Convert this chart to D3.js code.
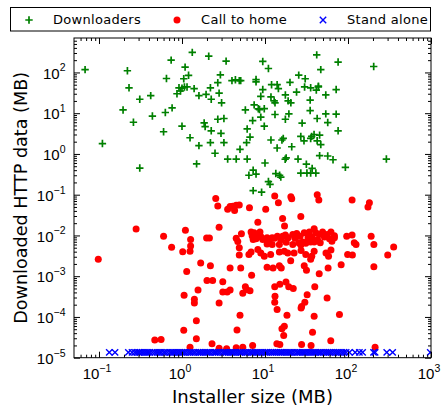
<!DOCTYPE html>
<html>
<head>
<meta charset="utf-8">
<script src="https://cdn.jsdelivr.net/npm/d3@7"></script>
<style>
  body { margin: 0; background: #fff; }
  svg { display: block; font-family: "DejaVu Sans", sans-serif; }
</style>
</head>
<body>
<div id="chart"></div>
<script>
// installer size (MB) / downloaded HTTP data (MB)
const dlSize = [0.068,0.11,0.195,0.22,0.23,0.26,0.31,0.31,0.42,0.44,0.6,0.63,0.65,0.74,0.76,0.87,0.92,0.96,1.0,1.07,
  1.15,1.05,1.09,1.2,1.0,1.33,1.4,1.25,1.6,1.6,1.5,1.85,1.9,1.95,2.2,2.1,2.25,2.25,2.2,2.5,
  2.7,3.2,2.8,2.7,2.9,3.0,3.4,2.95,3.2,3.55,4.5,5,5.8,6.1,6.0,6.1,6.4,6.6,4.0,4.4,
  4.9,5.1,7.2,7.1,9.4,11,7.8,7.8,9.4,8.9,7.4,8.3,8.6,9.8,8.9,9.8,7.2,7.8,9.1,10,
  11,11.5,12,14,14.5,11.8,12.9,13.2,13.2,11.8,14,13.5,15,15.5,16,16.6,17.6,17.6,19,20.5,
  19.4,20,21,17.5,18,25,24,25.5,30.5,30,35.5,41.5,44,44,35,35,28,42.5,27,29.5,
  36.5,39,35.5,45.5,42.5,47,45.5,57,66,31.5,37,27,32,35.5,41,54,54,57,72,72,
  76,76,47,42,93,204,290];
const dlData = [117,1.8,12,110,42,6,0.45,22,27,8.5,3.5,10.4,71,200,13.5,30,42,35,41,44,
  44,70,135,85,4.8,310,40,2.5,27,1.6,0.57,5.8,4.7,29,42,250,22,3.7,1.9,1.04,
  7.1,7.4,31,56,87,18,190,3.2,1.9,0.75,0.75,1.3,12,4.1,1.9,0.75,0.3,2.6,63,66,
  63,63,0.126,6.6,186,125,67,59,38,26,16,12.8,12.3,12.9,8,4.8,0.4,0.32,0.115,0.6,
  0.21,0.18,50,50,40,25,20,18,9.3,2.2,1.4,0.33,0.3,0.27,2.2,2.4,7.1,28,20,18,
  9.6,57,1.5,0.74,0.8,0.75,33,86,70,44,42,37,44,46,21,11.6,5.7,7.4,2.7,2.1,
  2.7,3.0,2.4,2.9,2.1,1.7,0.91,0.89,0.72,0.56,0.44,0.34,0.34,0.34,0.34,28,9.6,5.9,38,9.5,
  3.7,180,117,270,0.47,140,0.75];

const chSize = [0.098,0.28,0.6,0.75,1.02,1.1,1.27,1.27,1.25,1.14,1.06,1.41,1.41,1.56,1.68,1.98,2.14,2.0,2.34,2.2,
  1.49,1.05,1.49,0.47,0.56,1.25,2.3,2.55,2.7,2.8,3.55,3.8,4.1,4.5,4.3,4.9,6.5,3.8,3.1,3.1,
  3.5,3.8,2.8,4.5,4.7,5.2,4.9,4.9,5.1,5.8,5.4,6.0,5.0,4.6,2.8,3.45,4.5,5.4,6.4,
  13.1,14.5,20.5,21,42.6,44.5,112,181,174,10.2,16.3,27,8.2,17.2,
  6.8,7.4,8.7,7.2,7.8,9.4,10.6,12.2,14.1,16.3,17.6,21.6,24.1,29.7,34.2,39.1,41,45,49.4,62.3,
  68.6,59.8,68.6,96.5,112,119,125,190,205,10.6,12.2,14.9,21.6,25.5,28.5,31,35.5,39.1,46.3,
  7.0,8.0,9.0,11.2,13.0,15.5,19.0,23,26.5,33,37,43,52,56,64,18,27,
  6.8,8.2,8.9,9.8,11.7,14.9,17.1,18.8,22.4,27.2,31,35.5,36.6,39.1,54.3,58.3,62.3,99,113,301,355,20.4,
  10.6,12.5,14.9,15.7,29.7,31.6,57.6,82.7,205,45,6.9,
  17.9,15.1,13.1,19.3,21.9,39.8,6.6,13.2,13.1,32.2,30.2,27.6,27.2,56,14,18.4,39.1,78.9,
  17.1,16,16.8,37.4,62,13.9,15.1,27.6,35.9,7.1,212];
const chData = [0.0026,0.0144,0.0096,0.0051,0.004,0.0135,0.0079,0.0055,0.0041,0.00131,0.00034,0.00027,0.00022,0.00046,0.0021,0.0087,0.0087,0.00078,0.00078,0.0018,
  8.1e-5,4.7e-5,2.9e-5,2.7e-5,2.8e-5,1.8e-5,2.2e-5,0.081,0.053,0.016,0.044,0.051,0.052,0.055,0.041,0.056,0.048,0.0016,0.00073,0.00041,
  0.00041,0.00046,0.00022,0.0085,0.0071,0.011,0.005,0.0033,0.0016,0.00055,0.00038,0.00047,0.00011,4.8e-5,1.7e-5,1.65e-5,1.75e-5,1.8e-5,0.0034,
  0.093,0.063,0.089,0.08,0.1,0.074,0.074,0.063,0.05,0.044,0.026,0.029,0.021,0.017,
  0.0121,0.0116,0.0121,0.008,0.0083,0.008,0.0088,0.0088,0.0096,0.0096,0.0102,0.0106,0.0112,0.0116,0.0121,0.0146,0.0116,0.0106,0.0121,0.0121,
  0.0098,0.0083,0.0088,0.0096,0.0102,0.0066,0.006,0.0096,0.006,0.0062,0.006,0.006,0.006,0.0066,0.0069,0.0064,0.0069,0.0069,0.0066,
  0.0098,0.0105,0.0092,0.0078,0.0085,0.0078,0.0088,0.0085,0.0095,0.0088,0.0092,0.0078,0.0092,0.0105,0.0072,0.0068,0.0058,
  0.0039,0.0045,0.0037,0.0031,0.0034,0.0039,0.0041,0.0037,0.0037,0.0043,0.0034,0.0026,0.0031,0.0041,0.0037,0.0031,0.0044,0.0034,0.0033,0.0033,0.0052,0.0024,
  0.00166,0.0016,0.0018,0.0016,0.0018,0.0014,0.0016,0.0019,0.0017,0.00115,0.00105,
  0.00072,0.00063,0.00055,0.00055,0.0005,0.00055,0.00044,0.00032,0.00023,0.00035,0.00023,0.00018,0.000166,0.00029,0.000152,0.00011,0.000104,0.000115,
  5.9e-5,5.1e-5,3.5e-5,4.2e-5,2.6e-5,2.2e-5,2.1e-5,2.1e-5,2e-5,2e-5,1.8e-5];

// stand alone installers: no HTTP data, all sit on the floor value
const saSize = [0.133,0.156,0.226,0.25,0.27,0.285,0.30,0.31,0.33,0.35,0.37,0.39,0.41,0.44,0.47,0.5,0.53,0.56,0.6,0.63,
  0.67,0.72,0.76,0.8,0.85,0.9,0.95,1.0,1.05,1.1,1.17,1.24,1.3,1.38,1.45,1.55,1.62,1.7,1.8,1.9,
  2.0,2.1,2.2,2.35,2.5,2.6,2.75,2.9,3.1,3.25,3.4,3.6,3.8,4.0,4.2,4.45,4.7,5.0,5.2,5.5,
  5.8,6.1,6.5,6.8,7.2,7.6,8.0,8.4,8.9,9.4,10,10.5,11,11.7,12.3,13,13.7,14.5,15.3,16,
  17,18,19,20,21,22.5,24,25,26.5,28,29.5,31,33,35,37,39,41,43.5,46,48,
  51,54,57,60,63,67,71,75,79,84,89,95,104,122,137,150,203,212,293,345,980];
const saLevel = 1.35e-5;

const xMajor = [0.1, 1, 10, 100, 1000];
const yMajor = [1e-5, 1e-4, 1e-3, 1e-2, 1e-1, 1, 10, 100];
const legendNames = ["Downloaders", "Call to home", "Stand alone"];

const width = 441, height = 407;
const plotLeft = 74, plotRight = 431, plotTop = 38, plotBottom = 357.7;

const svg = d3.select("#chart").append("svg")
  .attr("width", width).attr("height", height);

const x = d3.scaleLog().domain([0.05, 1000]).range([plotLeft, plotRight]);
const y = d3.scaleLog().domain([1e-5, 700]).range([plotBottom, plotTop]);

function minorTicks(domain) {
  let out = [];
  for (let e = -6; e <= 3; e++) {
    for (let m = 2; m <= 9; m++) {
      let v = m * Math.pow(10, e);
      if (v > domain[0] * 1.001 && v < domain[1]) out.push(v);
    }
  }
  return out;
}

const plusPath = "M-3.7,0H3.7M0,-3.7V3.7";
const crossPath = "M-3.2,-3.2L3.2,3.2M-3.2,3.2L3.2,-3.2";

// markers, clipped to the axes box like matplotlib does
svg.append("clipPath").attr("id", "clip")
  .append("rect").attr("x", plotLeft).attr("y", plotTop)
  .attr("width", plotRight - plotLeft).attr("height", plotBottom - plotTop);

const plot = svg.append("g").attr("clip-path", "url(#clip)");

plot.selectAll("path.dl").data(dlSize).enter().append("path")
  .attr("class", "dl")
  .attr("d", plusPath)
  .attr("transform", (d, i) => `translate(${x(d)},${y(dlData[i])})`)
  .attr("stroke", "#008000").attr("stroke-width", 1.7).attr("fill", "none");

plot.selectAll("circle.ch").data(chSize).enter().append("circle")
  .attr("class", "ch")
  .attr("cx", d => x(d))
  .attr("cy", (d, i) => y(chData[i]))
  .attr("r", 3.5)
  .attr("fill", "#ff0000");

plot.selectAll("path.sa").data(saSize).enter().append("path")
  .attr("class", "sa")
  .attr("d", crossPath)
  .attr("transform", d => `translate(${x(d)},${y(saLevel)})`)
  .attr("stroke", "#0000ff").attr("stroke-width", 1.4).attr("fill", "none");

// ticks point inwards on all four sides
function drawAxis(axis, tx, ty) {
  let g = svg.append("g").attr("transform", `translate(${tx},${ty})`).call(axis);
  g.select(".domain").remove();
  g.selectAll(".tick line").attr("stroke", "#000").attr("stroke-width", 1);
  return g;
}

const xMinor = minorTicks(x.domain());
const yMinor = minorTicks(y.domain());

let xAxisG = drawAxis(d3.axisBottom(x).tickValues(xMajor).tickSize(-6).tickPadding(0), 0, plotBottom);
drawAxis(d3.axisBottom(x).tickValues(xMinor).tickSize(-3).tickFormat(""), 0, plotBottom);
drawAxis(d3.axisTop(x).tickValues(xMajor).tickSize(-6).tickFormat(""), 0, plotTop);
drawAxis(d3.axisTop(x).tickValues(xMinor).tickSize(-3).tickFormat(""), 0, plotTop);
let yAxisG = drawAxis(d3.axisLeft(y).tickValues(yMajor).tickSize(-6).tickPadding(0), plotLeft, 0);
drawAxis(d3.axisLeft(y).tickValues(yMinor).tickSize(-3).tickFormat(""), plotLeft, 0);
drawAxis(d3.axisRight(y).tickValues(yMajor).tickSize(-6).tickFormat(""), plotRight, 0);
drawAxis(d3.axisRight(y).tickValues(yMinor).tickSize(-3).tickFormat(""), plotRight, 0);

function powerLabel(sel) {
  sel.each(function (d) {
    let t = d3.select(this).text(null)
      .attr("font-size", 15).attr("fill", "#000").attr("dy", null);
    let e = Math.round(Math.log10(d));
    t.append("tspan").text("10");
    t.append("tspan").attr("font-size", 10.5).attr("dy", -7.4)
      .text(e < 0 ? "\u2212" + (-e) : e);
  });
}

xAxisG.selectAll(".tick text").call(powerLabel)
  .attr("y", 21.3).attr("x", -2.5);
yAxisG.selectAll(".tick text").call(powerLabel)
  .attr("x", -8.5).attr("y", 5.7).attr("text-anchor", "end");

svg.append("rect")
  .attr("x", plotLeft).attr("y", plotTop)
  .attr("width", plotRight - plotLeft).attr("height", plotBottom - plotTop)
  .attr("fill", "none").attr("stroke", "#000").attr("stroke-width", 1);

svg.append("text")
  .attr("x", (plotLeft + plotRight) / 2).attr("y", 403)
  .attr("text-anchor", "middle").attr("font-size", 18)
  .text("Installer size (MB)");

svg.append("text")
  .attr("transform", `translate(27,${(plotTop + plotBottom) / 2}) rotate(-90)`)
  .attr("text-anchor", "middle").attr("font-size", 17.6)
  .text("Downloaded HTTP data (MB)");

// legend strip above the axes
const legend = svg.append("g");
legend.append("rect")
  .attr("x", 10.5).attr("y", 7.5).attr("width", 420).attr("height", 23.5)
  .attr("fill", "#fff").attr("stroke", "#000").attr("stroke-width", 1);

const legendX = [29, 177, 323];
legend.append("path").attr("d", plusPath)
  .attr("transform", `translate(${legendX[0]},20)`)
  .attr("stroke", "#008000").attr("stroke-width", 1.7).attr("fill", "none");
legend.append("circle").attr("cx", legendX[1]).attr("cy", 20).attr("r", 3.5)
  .attr("fill", "#ff0000");
legend.append("path").attr("d", crossPath)
  .attr("transform", `translate(${legendX[2]},20)`)
  .attr("stroke", "#0000ff").attr("stroke-width", 1.4).attr("fill", "none");

legend.selectAll("text.lg").data(legendNames).enter().append("text")
  .attr("class", "lg")
  .attr("x", (d, i) => legendX[i] + 24)
  .attr("y", 23.5)
  .attr("font-size", 13)
  .attr("letter-spacing", 0.3)
  .text(d => d);
</script>
</body>
</html>
